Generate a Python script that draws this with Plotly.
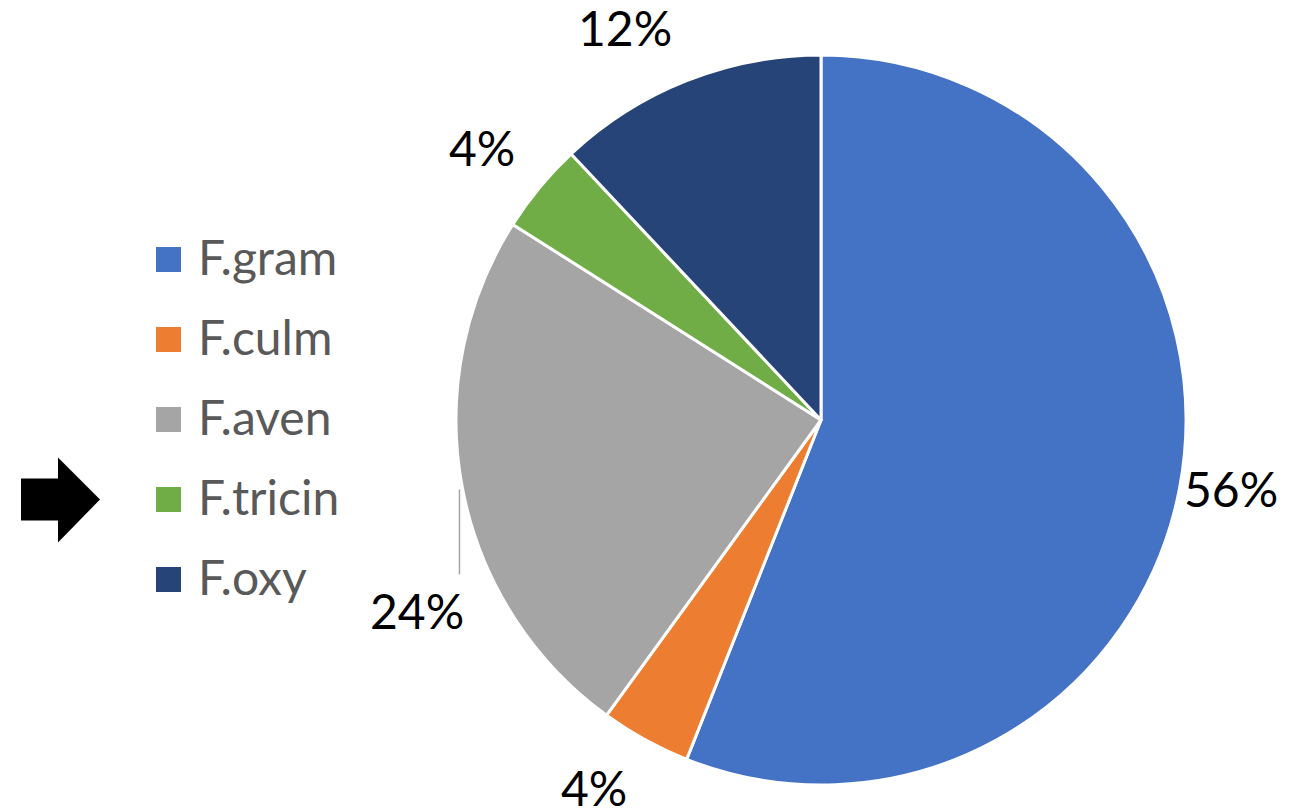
import math
import plotly.graph_objects as go

# ---- data ----
categories = ["F.gram", "F.culm", "F.aven", "F.tricin", "F.oxy"]
values = [56, 4, 24, 4, 12]
colors = ["#4472C4", "#ED7D31", "#A5A5A5", "#70AD47", "#264478"]
highlight = "F.tricin"

# ---- layout constants ----
W, H = 1294, 812
OFF = 8            # page body margin of the browser
CX, CY, R = 821, 420, 365
FONT = "Lato"
LABEL_SIZE = 48
LEGEND_SIZE = 48


def px(x):
    return (x - OFF) / W


def py(y):
    return 1 - (y - OFF) / H


fig = go.Figure()
fig.add_trace(go.Pie(
    labels=categories, values=values, sort=False, direction="clockwise",
    rotation=0, textinfo="none", hoverinfo="label+percent", showlegend=False,
    marker=dict(colors=colors, line=dict(color="white", width=3)),
    domain=dict(x=[px(CX - R), px(CX + R)], y=[py(CY + R), py(CY - R)]),
))

annotations = []
shapes = []

# percentage labels placed from slice mid-angles
total = sum(values)
label_gap = [3, 34, None, 30, 35]
cum = 0
for i, v in enumerate(values):
    mid = (cum + v / 2) / total * 2 * math.pi
    cum += v
    s, c = math.sin(mid), -math.cos(mid)
    ex, ey = CX + R * s, CY + R * c
    pct = f"{round(100 * v / total)}%"
    if label_gap[i] is None:
        # leader line straight down, label below
        shapes.append(dict(type="line", xref="paper", yref="paper",
                           x0=px(ex - 3), x1=px(ex - 3), y0=py(ey + 1), y1=py(ey + 86),
                           line=dict(color="#A6A6A6", width=1.5)))
        annotations.append(dict(x=px(ex + 4), y=py(ey + 105), xref="paper", yref="paper",
                                text=pct, showarrow=False, xanchor="right", yanchor="top",
                                yshift=13, font=dict(family=FONT, size=LABEL_SIZE, color="black")))
        continue
    g = label_gap[i]
    lx, ly = ex + g * s, ey + g * c
    xa = "left" if s > 0 else "right"
    if abs(c) < 0.3:
        ya, ys = "middle", 0
    elif c > 0:
        ya, ys = "top", 13
    else:
        ya, ys = "bottom", -10
    annotations.append(dict(x=px(lx), y=py(ly), xref="paper", yref="paper",
                            text=pct, showarrow=False, xanchor=xa, yanchor=ya, yshift=ys,
                            font=dict(family=FONT, size=LABEL_SIZE, color="black")))

# legend (manual, left side)
LEG_X, LEG_Y0, LEG_DY, SQ = 156, 259.5, 80, 25
for i, (cat, col) in enumerate(zip(categories, colors)):
    yc = LEG_Y0 + i * LEG_DY
    shapes.append(dict(type="rect", xref="paper", yref="paper",
                       x0=px(LEG_X), x1=px(LEG_X + SQ), y0=py(yc - SQ / 2), y1=py(yc + SQ / 2),
                       fillcolor=col, line=dict(width=0)))
    annotations.append(dict(x=px(LEG_X + 40), y=py(yc), xref="paper", yref="paper",
                            text=cat, showarrow=False, xanchor="left", yanchor="middle",
                            yshift=3, font=dict(family=FONT, size=LEGEND_SIZE, color="#595959")))
    if cat == highlight:
        # block arrow pointing at the highlighted legend entry
        x0, x1, x2 = px(21), px(58), px(100)
        path = (f"M {x0},{py(yc - 21)} L {x1},{py(yc - 21)} L {x1},{py(yc - 42)} "
                f"L {x2},{py(yc)} L {x1},{py(yc + 43)} L {x1},{py(yc + 21)} "
                f"L {x0},{py(yc + 21)} Z")
        shapes.append(dict(type="path", xref="paper", yref="paper", path=path,
                           fillcolor="black", line=dict(width=0)))

fig.update_layout(
    width=W, height=H, margin=dict(l=0, r=0, t=0, b=0),
    paper_bgcolor="white", plot_bgcolor="white",
    annotations=annotations, shapes=shapes, showlegend=False,
)
fig.write_html("out.html")
